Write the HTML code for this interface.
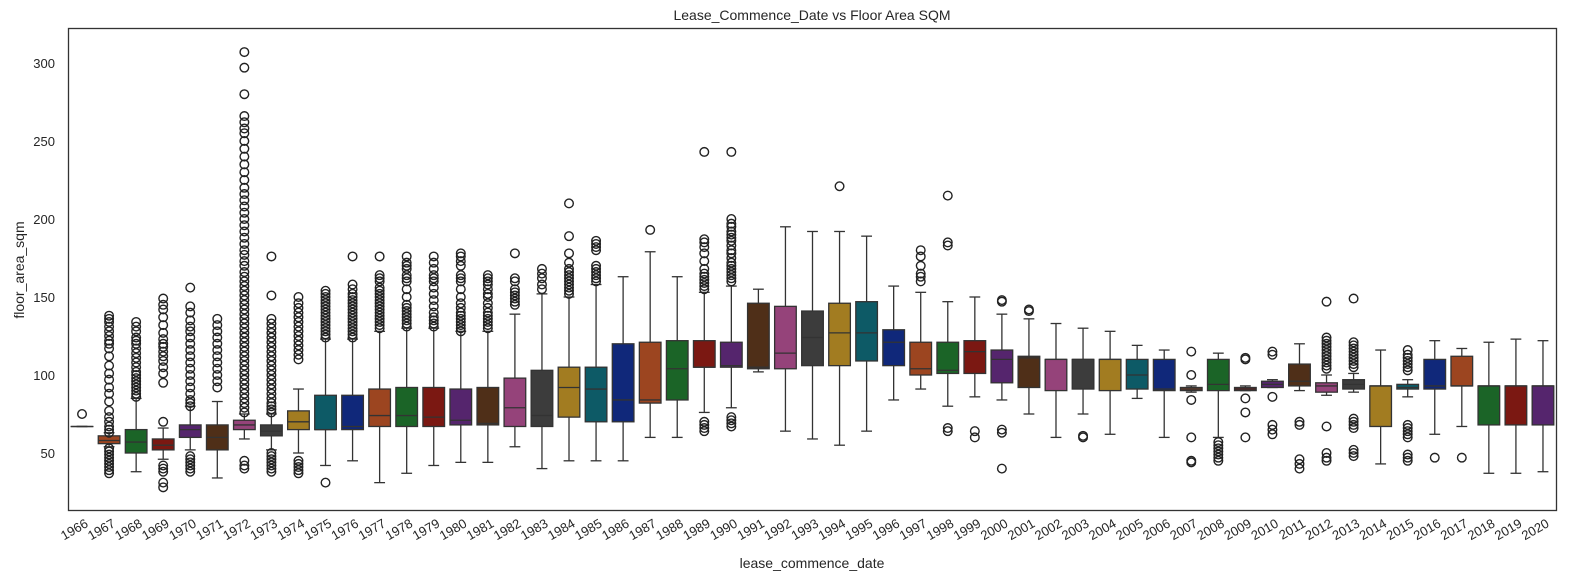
<!DOCTYPE html>
<html><head><meta charset="utf-8"><style>
body{margin:0;background:#fff;font-family:"Liberation Sans",sans-serif;}
svg text{font-family:"Liberation Sans",sans-serif;fill:#262626;}
</style></head><body>
<svg id="chart" width="1581" height="583" xmlns="http://www.w3.org/2000/svg">
<rect x="0" y="0" width="1581" height="583" fill="#fff"/>
<text x="812" y="20" font-size="14" text-anchor="middle">Lease_Commence_Date vs Floor Area SQM</text>
<g id="yticks"></g>
<g id="boxes"></g>
<g id="xticks"></g>
<rect x="68.5" y="28.5" width="1488" height="482" fill="none" stroke="#333" stroke-width="1.3"/>
<text x="812" y="568" font-size="14" text-anchor="middle">lease_commence_date</text>
<text transform="translate(24,270) rotate(-90)" font-size="14" text-anchor="middle">floor_area_sqm</text>
</svg>
<script>
const years=[];for(let y=1966;y<=2020;y++)years.push(y);
const q1=[67,56,50,52,60,52,65,61,65,65,65,67,67,67,68,68,67,67,73,70,70,82,84,105,105,104,104,106,106,109,106,100,101,101,95,92,90,91,90,91,90,90,90,90,92,93,89,91,67,91,91,93,68,68,68];
const med=[67,58,57,55,65,60,68,64,70,65,67,74,74,73,71,69,79,74,92,91,84,84,104,105,106,105,114,124,127,127,121,104,103,115,110,111,110,110,110,100,91,91,94,91,94,96,93,94,93,92,93,93,93,93,93];
const q3=[67,61,65,59,68,68,71,68,77,87,87,91,92,92,91,92,98,103,105,105,120,121,122,122,121,146,144,141,146,147,129,121,121,122,116,112,110,110,110,110,110,92,110,92,96,107,95,97,93,94,110,112,93,93,93];
const wlo=[67,54,38,46,52,34,59,52,50,42,45,31,37,42,44,44,54,40,45,45,45,60,60,76,79,102,64,59,55,64,84,91,80,86,84,75,60,75,62,85,60,89,60,90,92,90,87,89,43,86,62,67,37,37,38];
const whi=[67,63,85,66,80,83,75,75,91,123,123,128,130,130,128,128,139,152,150,158,163,179,163,153,157,155,195,192,192,189,157,153,147,150,139,136,133,130,128,119,116,93,114,93,97,120,100,101,116,97,122,117,121,123,122];
const outliers=[
[75],
[63,65,67,70,73,77,83,88,92,97,101,106,112,117,120,122,125,128,131,134,136,138,37,39,41,43,45,47,49,51,53],
[86,88,90,92,94,96,98,100,102,105,108,111,114,117,120,122,124,128,131,134],
[70,28,31,38,40,42,95,101,105,109,112,115,118,120,123,127,132,137,142,145,149],
[80,82,38,40,42,44,46,48,84,88,92,96,100,104,108,112,116,120,124,128,131,135,140,144,156],
[92,96,100,104,108,112,116,120,124,128,132,136],
[76,79,82,85,88,91,94,97,100,103,106,109,112,115,118,121,124,127,130,133,136,139,142,145,148,151,154,157,160,163,166,170,173,177,180,184,188,192,196,200,204,208,212,216,220,225,230,235,240,245,250,255,258,262,266,280,297,307,40,42,45],
[76,78,80,82,85,88,91,94,97,100,103,106,109,112,115,118,121,124,127,130,133,136,151,176,38,40,42,44,46,48,50],
[110,113,116,119,122,125,128,131,134,137,140,143,146,150,37,39,41,43,45],
[124,126,128,130,132,134,136,138,140,142,144,146,148,150,152,154,31],
[124,126,128,130,132,134,136,138,140,142,144,146,148,150,152,155,158,176],
[130,132,134,136,138,140,142,144,146,148,150,152,154,156,160,162,164,176],
[131,133,135,137,139,141,143,145,150,155,160,162,164,168,170,172,176],
[131,133,135,137,140,144,148,152,156,160,162,164,168,172,176],
[128,130,132,134,136,138,140,143,146,150,155,160,162,164,170,173,176,178],
[130,132,134,136,138,140,143,146,150,152,155,158,160,162,164],
[145,147,149,151,153,155,160,162,178],
[155,158,162,165,168],
[152,154,156,158,160,162,164,166,168,172,178,189,210],
[160,162,164,166,168,170,180,182,184,186],
[],
[193],
[],
[155,157,159,161,163,165,168,173,178,182,185,187,243,64,66,68,70],
[160,162,164,166,168,170,172,175,178,180,183,186,188,190,192,195,197,200,243,67,69,71,73],
[],[],[],[221],[],[],
[160,163,165,170,176,180],
[183,185,215,64,66],
[60,64],
[147,148,40,63,65],
[141,142],
[],
[60,61],
[],[],[],
[115,100,84,60,45,44],
[45,47,49,51,53,55,57],
[110,111,85,76,60],
[113,115,86,62,65,68],
[68,70,40,43,46],
[104,106,108,110,112,114,116,118,120,122,124,147,67,45,47,50],
[105,107,109,111,113,115,117,119,121,149,48,50,52,66,68,70,72],
[],
[103,105,107,109,111,113,116,45,47,49,60,62,64,66,68],
[47],
[47],
[],[],[]
];
const colors=["#10287a","#9c4520","#1b6427","#7b1812","#55256d","#4f2f18","#95437a","#3c3c3c","#a27c21","#0d5a66"];
const NS="http://www.w3.org/2000/svg";
const X0=68.5,W=1488,n=years.length,step=W/n;
const xc=i=>X0+step*(i+0.5);
const yv=v=>453-(v-50)*1.56;
function mk(tag,attrs,parent){const e=document.createElementNS(NS,tag);for(const k in attrs)e.setAttribute(k,attrs[k]);parent.appendChild(e);return e;}
const gy=document.getElementById('yticks');
[50,100,150,200,250,300].forEach(t=>{
  const tx=mk('text',{x:55,y:yv(t)+5,'font-size':13,'text-anchor':'end'},gy);
  
  
  tx.textContent=t;
});
const gx=document.getElementById('xticks');
years.forEach((yr,i)=>{
  const x=xc(i);
  const tx=mk('text',{x:x+7,y:526,'font-size':13,'text-anchor':'end',transform:`rotate(-30 ${x+7} 526)`},gx);
  
  
  tx.textContent=yr;
});
const gb=document.getElementById('boxes');
const bw=step*0.8, cw=bw/2, ec="#333";
years.forEach((yr,i)=>{
  const x=xc(i);
  const g=mk('g',{},gb);
  
  
  const l1=mk('line',{x1:x,x2:x,y1:yv(q3[i]),y2:yv(whi[i]),stroke:ec,'stroke-width':1.3},g);
  
  
  const l2=mk('line',{x1:x,x2:x,y1:yv(q1[i]),y2:yv(wlo[i]),stroke:ec,'stroke-width':1.3},g);
  
  
  const c1=mk('line',{x1:x-cw/2,x2:x+cw/2,y1:yv(whi[i]),y2:yv(whi[i]),stroke:ec,'stroke-width':1.3},g);
  
  
  const c2=mk('line',{x1:x-cw/2,x2:x+cw/2,y1:yv(wlo[i]),y2:yv(wlo[i]),stroke:ec,'stroke-width':1.3},g);
  
  
  const top=yv(q3[i]),bot=yv(q1[i]);
  const r=mk('rect',{x:x-bw/2,y:top,width:bw,height:Math.max(bot-top,0.1),fill:colors[i%10],stroke:ec,'stroke-width':1.3},g);
  
  
  const m=mk('line',{x1:x-bw/2,x2:x+bw/2,y1:yv(med[i]),y2:yv(med[i]),stroke:ec,'stroke-width':1.3},g);
  
  
  outliers[i].forEach(v=>{
    const c=mk('circle',{cx:x,cy:yv(v),r:4.3,fill:'none',stroke:'#222','stroke-width':1.4},g);
    
    
  });
});
</script>
</body></html>
